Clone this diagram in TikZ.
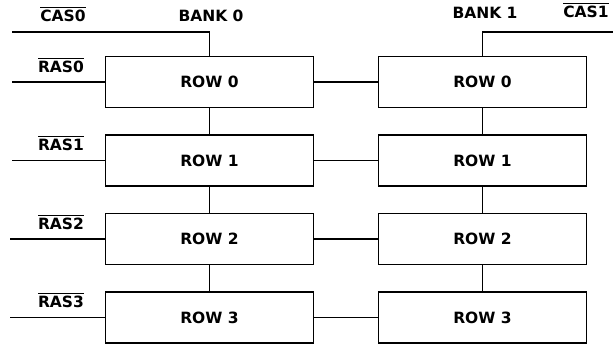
\documentclass[tikz,border=0pt]{standalone}
\usepackage{fontspec}
\setmainfont{DejaVu Sans}
\usetikzlibrary{positioning}
\newcommand{\sigbar}[1]{\leavevmode\vbox{\hrule height 1.3pt\kern1.8pt\hbox{#1}}}

\begin{document}
\begin{tikzpicture}[
  x=1pt, y=-1pt,
  node distance=27.5pt and 65pt,
  row/.style={draw, line width=1.8pt, minimum width=208pt, minimum height=51pt, inner sep=0pt, outer sep=0pt, font=\fontsize{15.5}{18}\selectfont\bfseries},
  lbl/.style={font=\fontsize{15.5}{18}\selectfont\bfseries, inner sep=0pt},
  wire/.style={line width=1.8pt}
]
\useasboundingbox (0,0) rectangle (613,346);
% bank 0
\node[row] (l0) at (209.5,82) {ROW 0};
\node[row, below=of l0] (l1) {ROW 1};
\node[row, below=of l1] (l2) {ROW 2};
\node[row, below=of l2] (l3) {ROW 3};
% bank 1
\node[row, right=of l0] (r0) {ROW 0};
\node[row, right=of l1] (r1) {ROW 1};
\node[row, right=of l2] (r2) {ROW 2};
\node[row, right=of l3] (r3) {ROW 3};
% labels
\node[lbl] (bank0) at (211,16) {BANK 0};
\node[lbl] (bank1) at (485,13) {BANK 1};
\node[lbl] (cas0lbl) at (63,14) {\sigbar{CAS0}};
\node[lbl] (cas1lbl) at (586,10) {\sigbar{CAS1}};
\node[lbl] (ras0lbl) at (61,65) {\sigbar{RAS0}};
\node[lbl] (ras1lbl) at (61,143) {\sigbar{RAS1}};
\node[lbl] (ras2lbl) at (61,222) {\sigbar{RAS2}};
\node[lbl] (ras3lbl) at (61,300) {\sigbar{RAS3}};
% free wire ends
\coordinate (cas0) at (12,32);
\coordinate (cas1) at (613,32);
\coordinate (ras0) at (12,82);
\coordinate (ras1) at (12,160.5);
\coordinate (ras2) at (10,239);
\coordinate (ras3) at (10,317.5);
\draw[wire] (cas0) -| (l0);
\draw[wire] (cas1) -| (r0);
\draw[wire] (ras0) -- (l0);
\draw[wire] (ras1) -- (l1);
\draw[wire] (ras2) -- (l2);
\draw[wire] (ras3) -- (l3);
\draw[wire] (l0) -- (l1);
\draw[wire] (l1) -- (l2);
\draw[wire] (l2) -- (l3);
\draw[wire] (r0) -- (r1);
\draw[wire] (r1) -- (r2);
\draw[wire] (r2) -- (r3);
\draw[wire] (l0) -- (r0);
\draw[wire] (l1) -- (r1);
\draw[wire] (l2) -- (r2);
\draw[wire] (l3) -- (r3);
\end{tikzpicture}
\end{document}
